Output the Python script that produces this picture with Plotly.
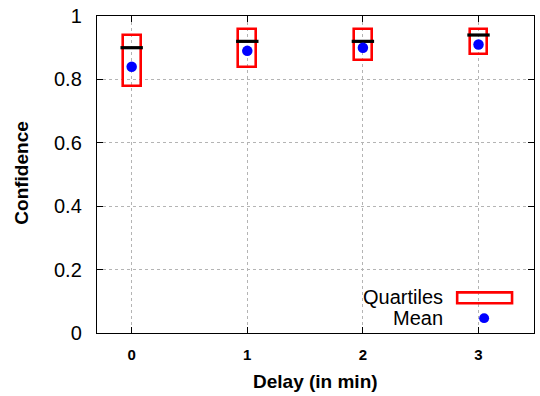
import plotly.graph_objects as go

delays = [0, 1, 2, 3]
q1 = [0.78, 0.84, 0.86, 0.88]
q3 = [0.94, 0.96, 0.96, 0.96]
medians = [0.90, 0.92, 0.92, 0.94]
means = [0.84, 0.89, 0.90, 0.91]
y_ticks = [0, 0.2, 0.4, 0.6, 0.8, 1]
y_labels = ["0", "0.2", "0.4", "0.6", "0.8", "1"]

W, H = 540, 396
L, R, T, B = 97, 5, 13, 63
pw, ph = W - L - R, H - T - B

def px(x):
    return (x - L) / pw

def py(y):
    return (H - B - y) / ph

fig = go.Figure()
fig.add_trace(go.Bar(
    x=delays, y=[b - a for a, b in zip(q1, q3)], base=q1, width=0.155,
    marker=dict(color="rgba(0,0,0,0)", line=dict(color="#ff0000", width=2.6)),
    showlegend=False, hoverinfo="skip"))
fig.add_trace(go.Scatter(
    x=delays, y=medians, mode="markers",
    marker=dict(symbol="line-ew", size=16, line=dict(color="black", width=3.2)),
    showlegend=False))
fig.add_trace(go.Scatter(
    x=delays, y=means, mode="markers",
    marker=dict(symbol="circle", size=10.5, color="#0000ff", line=dict(width=0)),
    showlegend=False))

font = "Liberation Sans, Arial, Helvetica, sans-serif"
fig.update_layout(
    width=W, height=H, margin=dict(l=L, r=R, t=T, b=B),
    plot_bgcolor="white", paper_bgcolor="white",
    font=dict(family=font, color="black"),
    xaxis=dict(range=[-0.3, 3.48], tickvals=delays, ticktext=[str(d) for d in delays],
               ticks="inside", ticklen=6, tickcolor="black", showline=True, linecolor="black",
               linewidth=1.4, mirror="ticks", showgrid=True, gridcolor="#b4b4b4", griddash="dot",
               gridwidth=1, zeroline=False, tickfont=dict(size=15, family=font, weight="bold"),
               ticklabelstandoff=8),
    yaxis=dict(range=[0, 1], tickvals=y_ticks, ticktext=y_labels,
               ticks="inside", ticklen=6, tickcolor="black", showline=True, linecolor="black",
               linewidth=1.4, mirror="ticks", showgrid=True, gridcolor="#b4b4b4", griddash="dot",
               gridwidth=1, zeroline=False, tickfont=dict(size=20, family=font),
               ticklabelstandoff=10),
    bargap=0,
)

fig.add_annotation(text="<b>Delay (in min)</b>", xref="paper", yref="paper",
                   x=px(316), y=py(382), showarrow=False, font=dict(size=19, family=font),
                   xanchor="center", yanchor="middle")
fig.add_annotation(text="<b>Confidence</b>", xref="paper", yref="paper",
                   x=px(21), y=py(172), showarrow=False, font=dict(size=19, family=font),
                   textangle=-90, xanchor="center", yanchor="middle")

# legend
fig.add_annotation(text="Quartiles", xref="paper", yref="paper", x=px(446), y=py(297),
                   showarrow=False, xanchor="right", yanchor="middle", font=dict(size=20, family=font))
fig.add_annotation(text="Mean", xref="paper", yref="paper", x=px(446), y=py(318),
                   showarrow=False, xanchor="right", yanchor="middle", font=dict(size=20, family=font))
fig.add_shape(type="rect", xref="paper", yref="paper", x0=px(458), x1=px(513),
              y0=py(303), y1=py(292), line=dict(color="#ff0000", width=2.6), fillcolor="rgba(0,0,0,0)")
fig.add_shape(type="circle", xref="paper", yref="paper", x0=px(480), x1=px(490),
              y0=py(323), y1=py(313), line=dict(width=0), fillcolor="#0000ff")

fig.write_html("out.html")
